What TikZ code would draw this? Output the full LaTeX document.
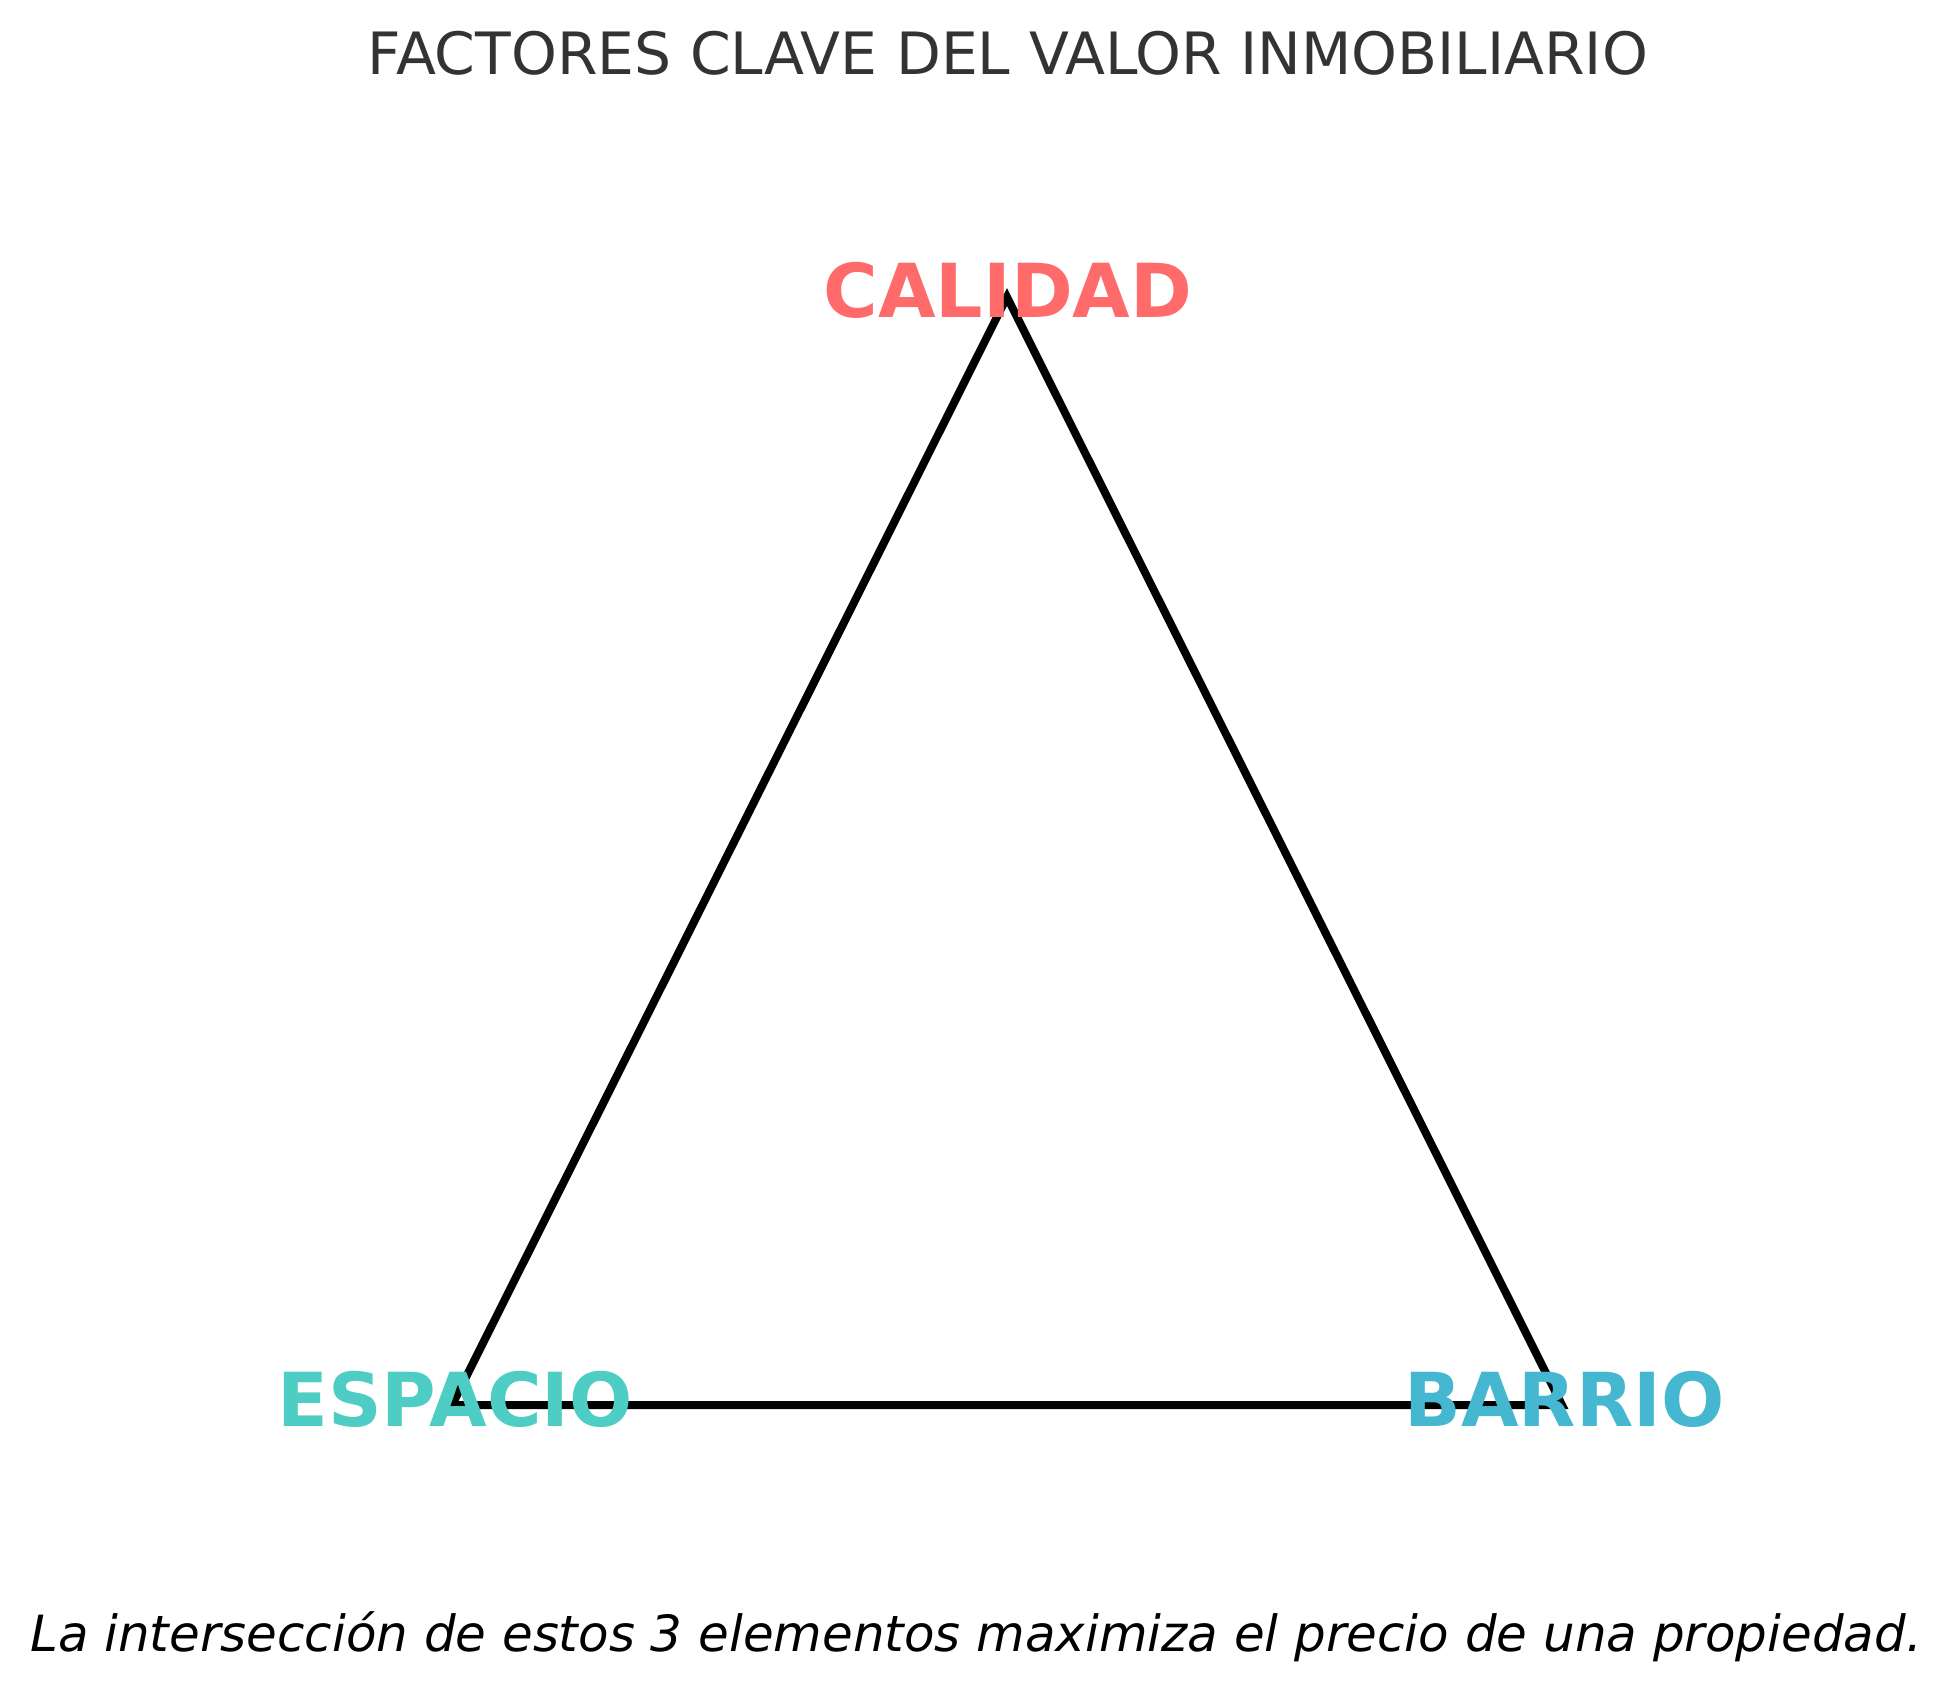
\documentclass[tikz,border=0pt]{standalone}
\usepackage{fontspec}
\setmainfont{DejaVu Sans}
\definecolor{titlec}{HTML}{333333}
\definecolor{calc}{HTML}{FF6B6B}
\definecolor{espc}{HTML}{4ECDC4}
\definecolor{barc}{HTML}{45B7D1}
\begin{document}
\begin{tikzpicture}[x=0.36pt,y=-0.36pt,
  lbl/.style={inner sep=0pt,anchor=base,font=\fontsize{26.8}{30}\selectfont\bfseries},
  edge/.style={line width=2.88pt,line join=miter,black}]
\useasboundingbox (0,0) rectangle (1955,1692);
\coordinate (T) at (1007,297);
\coordinate (L) at (452,1405);
\coordinate (R) at (1562,1405);
\draw[edge] (T) -- (L) -- (R) -- cycle;
\node[lbl,text=calc] (cal) at (1008,317) {CALIDAD};
\node[lbl,text=espc] (esp) at (455,1426) {ESPACIO};
\node[lbl,text=barc] (bar) at (1564.5,1426) {BARRIO};
\node[inner sep=0pt,anchor=base,text=titlec,font=\fontsize{21}{24}\selectfont] (title) at (1008,74.3) {FACTORES CLAVE DEL VALOR INMOBILIARIO};
\node[inner sep=0pt,anchor=base,text=black,font=\fontsize{17.96}{21}\selectfont\itshape] (foot) at (976,1651.7) {La intersección de estos 3 elementos maximiza el precio de una propiedad.};
\end{tikzpicture}
\end{document}
